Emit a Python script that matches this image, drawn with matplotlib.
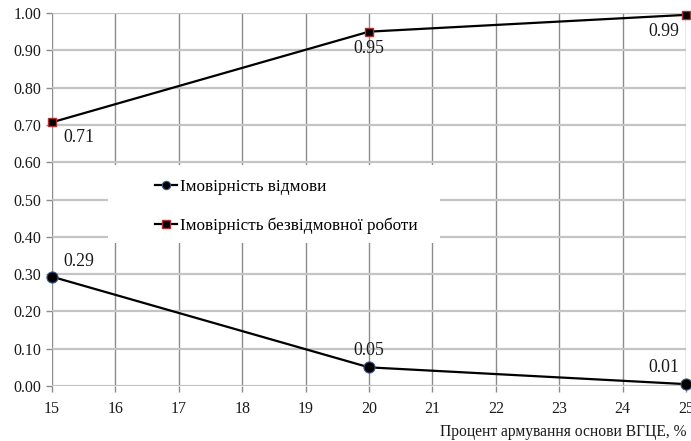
import matplotlib
matplotlib.use("Agg")
import matplotlib.pyplot as plt
from matplotlib.patches import Rectangle

plt.rcParams['font.family'] = ['Liberation Serif', 'DejaVu Serif']

x_pct = [15, 20, 25]
p_failure = [0.293, 0.05, 0.005]
p_success = [0.707, 0.95, 0.995]
failure_labels = ["0.29", "0.05", "0.01"]
success_labels = ["0.71", "0.95", "0.99"]
name_failure = "Імовірність відмови"
name_success = "Імовірність безвідмовної роботи"
xlabel = "Процент армування основи ВГЦЕ, %"
xticks = list(range(15, 26))
yticks = [i / 10 for i in range(0, 11)]

W, H = 691, 441
fig = plt.figure(figsize=(6.91, 4.41), dpi=100)
ax = fig.add_axes([52/W, 1 - 386/H, (686-52)/W, (386-13)/H])
ax.set_xlim(15, 25)
ax.set_ylim(0, 1.0)
for s in ax.spines.values():
    s.set_visible(False)

ax.set_xticks(xticks)
ax.set_yticks(yticks)
ax.set_yticklabels([f"{v:.2f}" for v in yticks])
ax.xaxis.grid(True, color='#8c8c8c', linewidth=1.0)
ax.yaxis.grid(True, color='#c4c4c4', linewidth=1.6)
ax.set_axisbelow(True)
ax.tick_params(axis='both', colors='#8c8c8c', labelcolor='#1a1a1a', labelsize=11.5, length=4, width=1)
ax.tick_params(axis='x', pad=7)

l1, = ax.plot(x_pct, p_failure, color='black', linewidth=1.6, marker='o', markersize=8,
              markerfacecolor='black', markeredgecolor='#3a5a8a', markeredgewidth=0.8,
              label=name_failure, clip_on=False, zorder=5)
l2, = ax.plot(x_pct, p_success, color='black', linewidth=1.6, marker='s', markersize=6,
              markerfacecolor='black', markeredgecolor='#b03030', markeredgewidth=1.0,
              label=name_success, clip_on=False, zorder=5)

fail_off = [(8, 5, 'left', 'bottom'), (0, 6, 'center', 'bottom'), (-5, 6, 'right', 'bottom')]
succ_off = [(8, -5, 'left', 'top'), (0, -6, 'center', 'top'), (-5, -6, 'right', 'top')]
for xv, yv, t, (dx, dy, ha, va) in zip(x_pct, p_failure, failure_labels, fail_off):
    ax.annotate(t, (xv, yv), xytext=(dx, dy), textcoords='offset points', ha=ha, va=va,
                fontsize=12.8, color='#1a1a1a')
for xv, yv, t, (dx, dy, ha, va) in zip(x_pct, p_success, success_labels, succ_off):
    ax.annotate(t, (xv, yv), xytext=(dx, dy), textcoords='offset points', ha=ha, va=va,
                fontsize=12.8, color='#1a1a1a')

# white legend background box
fig.add_artist(Rectangle((108/W, 1 - 243/H), (440-108)/W, (243-165)/H,
                         transform=fig.transFigure, facecolor='white', edgecolor='none', zorder=3))

leg = fig.legend(handles=[l1, l2], loc='upper left', bbox_to_anchor=(155/W, 1 - 179/H),
                 frameon=False, fontsize=12.3, handlelength=1.3,
                 handletextpad=0.15, labelspacing=1.33, borderpad=0, borderaxespad=0)
leg.set_zorder(4)
for h in leg.legend_handles:
    h.set_markersize(6)

fig.text(686/W, 1 - 432/H, xlabel, ha='right', va='center', fontsize=11.2, color='#1a1a1a')

fig.savefig("out.png", dpi=100)
